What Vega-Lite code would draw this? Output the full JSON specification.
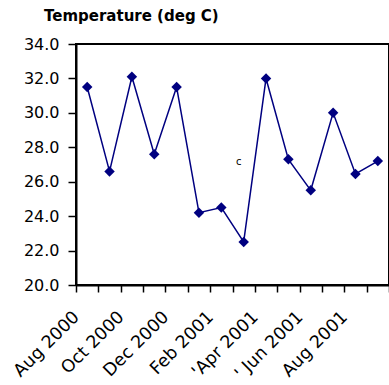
{
  "$schema": "https://vega.github.io/schema/vega-lite/v6.json",
  "width": 313,
  "height": 241,
  "autosize": "none",
  "padding": {"left": 76, "top": 44, "right": 0, "bottom": 100},
  "background": "white",
  "config": {
    "font": "DejaVu Sans",
    "view": {"stroke": "black", "strokeWidth": 2}
  },
  "title": {
    "text": "Temperature (deg C)",
    "anchor": "start",
    "frame": "group",
    "dx": -32,
    "offset": 0,
    "baseline": "alphabetic",
    "font": "DejaVu Sans",
    "fontSize": 15,
    "fontWeight": "bold",
    "color": "black"
  },
  "datasets": {
    "temps": [
      {"month": "Aug 2000", "temp": 31.5},
      {"month": "Sep 2000", "temp": 26.6},
      {"month": "Oct 2000", "temp": 32.1},
      {"month": "Nov 2000", "temp": 27.6},
      {"month": "Dec 2000", "temp": 31.5},
      {"month": "Jan 2001", "temp": 24.2},
      {"month": "Feb 2001", "temp": 24.5},
      {"month": "Mar 2001", "temp": 22.5},
      {"month": "'Apr 2001", "temp": 32.0},
      {"month": "May 2001", "temp": 27.3},
      {"month": "' Jun 2001", "temp": 25.5},
      {"month": "Jul 2001", "temp": 30.0},
      {"month": "Aug 2001", "temp": 26.45},
      {"month": "Sep 2001", "temp": 27.2}
    ],
    "note": [
      {"month": "Mar 2001", "temp": 27.15, "label": "c"}
    ]
  },
  "encoding": {
    "x": {
      "field": "month",
      "type": "nominal",
      "sort": ["Aug 2000", "Sep 2000", "Oct 2000", "Nov 2000", "Dec 2000", "Jan 2001", "Feb 2001", "Mar 2001", "'Apr 2001", "May 2001", "' Jun 2001", "Jul 2001", "Aug 2001", "Sep 2001"],
      "scale": {"paddingInner": 0, "paddingOuter": 0},
      "axis": {
        "title": null,
        "tickBand": "extent",
        "labelOffset": -11,
        "labelAngle": -45,
        "labelAlign": "right",
        "labelBaseline": "middle",
        "labelPadding": 22,
        "labelFontSize": 17.5,
        "labelColor": "black",
        "labelFont": "DejaVu Sans",
        "tickSize": 7,
        "tickColor": "black",
        "tickWidth": 1.5,
        "domainColor": "black",
        "domainWidth": 2,
        "grid": false,
        "labelOverlap": false,
        "labelExpr": "indexof(['Aug 2000','Oct 2000','Dec 2000','Feb 2001',\"'Apr 2001\",\"' Jun 2001\",'Aug 2001'], datum.value) >= 0 ? datum.value : ''"
      }
    },
    "y": {
      "field": "temp",
      "type": "quantitative",
      "scale": {"domain": [20, 34], "nice": false, "zero": false},
      "axis": {
        "title": null,
        "values": [20, 22, 24, 26, 28, 30, 32, 34],
        "format": ".1f",
        "labelFontSize": 16,
        "labelColor": "black",
        "labelFont": "DejaVu Sans",
        "labelPadding": 9,
        "labelOverlap": false,
        "tickSize": 8,
        "tickColor": "black",
        "tickWidth": 1.5,
        "domainColor": "black",
        "domainWidth": 2,
        "grid": false
      }
    }
  },
  "layer": [
    {
      "data": {"name": "temps"},
      "mark": {"type": "line", "color": "#000080", "strokeWidth": 1.5}
    },
    {
      "data": {"name": "temps"},
      "mark": {"type": "point", "shape": "diamond", "filled": true, "color": "#000080", "size": 110, "opacity": 1}
    },
    {
      "data": {"name": "note"},
      "mark": {"type": "text", "fontSize": 10, "color": "black", "dx": -5, "font": "DejaVu Sans"},
      "encoding": {
        "text": {"field": "label"}
      }
    }
  ]
}
